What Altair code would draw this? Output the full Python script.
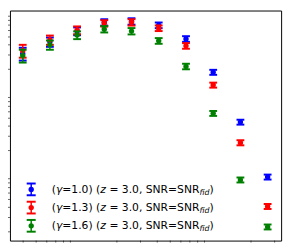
import altair as alt
import pandas as pd

# ---- data ----
x_vals = [0.397, 0.633, 1.01, 1.61, 2.57, 4.10, 6.55, 10.45, 16.67, 26.6]

blue_y = [0.312, 0.435, 0.590, 0.758, 0.779, 0.697, 0.473, 0.184, 0.0448, 0.00946]
blue_err = [0.056, 0.057, 0.065, 0.068, 0.070, 0.056, 0.038, 0.013, 0.0031, 0.00066]

red_y = [0.339, 0.460, 0.607, 0.737, 0.758, 0.642, 0.389, 0.128, 0.025, 0.00411]
red_err = [0.061, 0.060, 0.067, 0.066, 0.068, 0.051, 0.031, 0.0090, 0.0018, 0.00029]

green_y = [0.295, 0.400, 0.528, 0.624, 0.590, 0.448, 0.217, 0.0574, 0.00871, 0.00230]
green_err = [0.053, 0.052, 0.058, 0.056, 0.053, 0.036, 0.017, 0.0040, 0.00061, 0.00016]

gammas = ["1.0", "1.3", "1.6"]
colors = ["#0000ff", "#ff0000", "#008000"]

x_major = [1, 10]
x_minor = [0.4, 0.5, 0.6, 0.7, 0.8, 0.9, 2, 3, 4, 5, 6, 7, 8, 9, 20, 30]
y_major = [0.01, 0.1, 1]
y_minor = [0.002, 0.003, 0.004, 0.005, 0.006, 0.007, 0.008, 0.009,
           0.02, 0.03, 0.04, 0.05, 0.06, 0.07, 0.08, 0.09,
           0.2, 0.3, 0.4, 0.5, 0.6, 0.7, 0.8, 0.9]

X_DOMAIN = [0.3189, 33.54]
Y_DOMAIN = [0.00156, 1.057]

W, H = 277, 235

xs = alt.Scale(type="log", domain=X_DOMAIN, nice=False)
ys = alt.Scale(type="log", domain=Y_DOMAIN, nice=False)

x_axis = alt.Axis(values=x_major, labels=False, grid=False, domain=False, ticks=True,
                  tickSize=3.5, tickColor="black", tickWidth=0.8, title=None)
y_axis = alt.Axis(values=y_major, labels=False, grid=False, domain=False, ticks=True,
                  tickSize=3.5, tickColor="black", tickWidth=0.8, title=None)

layers = []
series = [(blue_y, blue_err), (red_y, red_err), (green_y, green_err)]
for i, (yv, ev) in enumerate(series):
    df = pd.DataFrame({"x": x_vals, "y": yv,
                       "lo": [a - b for a, b in zip(yv, ev)],
                       "hi": [a + b for a, b in zip(yv, ev)]})
    c = colors[i]
    base = alt.Chart(df)
    if i == 0:
        xenc = alt.X("x:Q", scale=xs, axis=x_axis)
        yenc = alt.Y("lo:Q", scale=ys, axis=y_axis)
    else:
        xenc = alt.X("x:Q", scale=xs, axis=None)
        yenc = alt.Y("lo:Q", scale=ys, axis=None)
    layers.append(base.mark_rule(color=c, strokeWidth=1.5).encode(x=xenc, y=yenc, y2="hi:Q"))
    layers.append(base.mark_rule(color=c, strokeWidth=2, xOffset=-4, x2Offset=4).encode(
        x=alt.X("x:Q", scale=xs, axis=None), x2="x:Q", y=alt.Y("lo:Q", scale=ys, axis=None)))
    layers.append(base.mark_rule(color=c, strokeWidth=2, xOffset=-4, x2Offset=4).encode(
        x=alt.X("x:Q", scale=xs, axis=None), x2="x:Q", y=alt.Y("hi:Q", scale=ys, axis=None)))
    layers.append(base.mark_point(color=c, filled=True, opacity=1, size=30).encode(
        x=alt.X("x:Q", scale=xs, axis=None), y=alt.Y("y:Q", scale=ys, axis=None)))

# minor ticks
dfxm = pd.DataFrame({"v": x_minor})
layers.append(alt.Chart(dfxm).mark_rule(color="black", strokeWidth=0.6).encode(
    x=alt.X("v:Q", scale=xs, axis=None), y=alt.value(H), y2=alt.value(H + 2)))
dfym = pd.DataFrame({"v": y_minor})
layers.append(alt.Chart(dfym).mark_rule(color="black", strokeWidth=0.6).encode(
    y=alt.Y("v:Q", scale=ys, axis=None), x=alt.value(0), x2=alt.value(-2)))

# legend (manual, to allow italic symbols and the "fid" subscript)
sym_x = 21.7
txt_x = 42.7
row_y = [182.7, 201.3, 219.9]
fs = 11.0
SP = 0.318  # width of a space, em
for i in range(3):
    yc = row_y[i]
    c = colors[i]
    # (text, leading space em, width em, italic, size factor, dy)
    segs = [("(", 0, 0.390, False, 1.0, 0), ("γ", 0, 0.592, True, 1.0, 0),
            ("=" + gammas[i] + ") (", 0, 3.526, False, 1.0, 0), ("z", 0, 0.525, True, 1.0, 0),
            ("= 3.0, SNR=SNR", SP, 8.376, False, 1.0, 0), ("fid", 0, 1.265, True, 0.72, 3.2),
            (")", 0, 0.390, False, 1.0, 0)]
    d = alt.Chart(pd.DataFrame({"k": [0]}))
    layers.append(d.mark_rule(color=c, strokeWidth=1.5).encode(
        x=alt.value(sym_x), y=alt.value(yc - 6), y2=alt.value(yc + 6)))
    layers.append(d.mark_rule(color=c, strokeWidth=2).encode(
        x=alt.value(sym_x - 4.6), x2=alt.value(sym_x + 4.6), y=alt.value(yc - 6)))
    layers.append(d.mark_rule(color=c, strokeWidth=2).encode(
        x=alt.value(sym_x - 4.6), x2=alt.value(sym_x + 4.6), y=alt.value(yc + 6)))
    layers.append(d.mark_point(color=c, filled=True, opacity=1, size=30).encode(
        x=alt.value(sym_x), y=alt.value(yc)))
    cx = txt_x
    for (t, lead, w, it, sf, dy) in segs:
        size = fs * sf
        cx += lead * size
        kw = dict(align="left", baseline="middle", font="DejaVu Sans", fontSize=size, color="black")
        if it:
            kw["fontStyle"] = "italic"
        layers.append(d.mark_text(**kw).encode(
            x=alt.value(cx), y=alt.value(yc + 0.5 + dy), text=alt.value(t)))
        cx += w * size

chart = alt.layer(*layers).properties(
    width=W, height=H,
    autosize=alt.AutoSizeParams(type="none"),
    padding={"left": 2, "top": 0, "right": 6, "bottom": 6},
).configure_view(stroke="black", strokeWidth=1)

chart.save("out.html", embed_options={"renderer": "svg", "actions": False})
